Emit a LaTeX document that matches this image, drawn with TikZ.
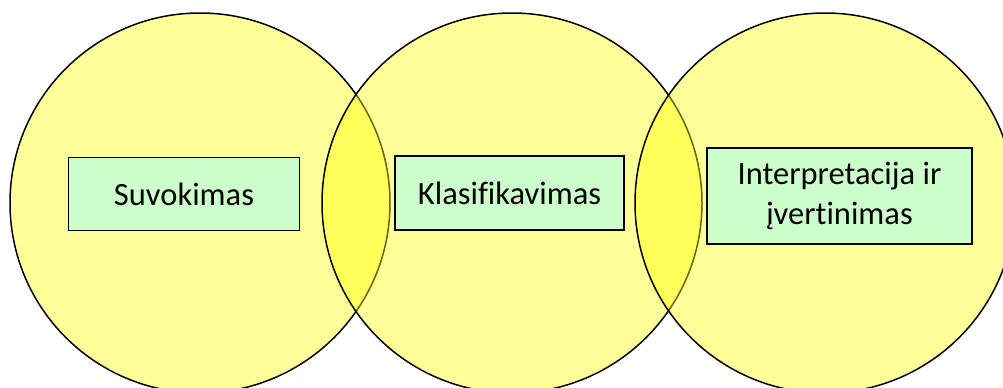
\documentclass[tikz,border=0pt]{standalone}
\usepackage{fontspec}
\setmainfont[RawFeature={-liga;-clig}]{Carlito}
\usepackage{tikz}
\usetikzlibrary{positioning, shapes}

\definecolor{ringyellow}{RGB}{255,255,0}
\definecolor{boxgreen}{RGB}{204,255,204}

\begin{document}
\begin{tikzpicture}[x=0.02cm, y=0.02cm,
	ring/.style={draw=black, line width=0.85pt, fill=ringyellow, fill opacity=0.4},
	stage/.style={draw=black, line width=0.85pt, fill=boxgreen, align=center, font=\fontsize{18.5}{22.5}\selectfont, inner sep=0pt}]
  	\clip (0,0) rectangle (1003,387);
  	\fill[white] (0,0) rectangle (1003,387);

  	% three overlapping rings, drawn left to right
  	\draw[ring] (200,184) circle (190);
  	\draw[ring] (512,184) circle (190);
  	\draw[ring] (825,184) circle (190);

  	\node[stage, minimum width=4.62cm, minimum height=1.46cm] (S1) at (184,193) {Suvokimas};
  	\node[stage, minimum width=4.58cm, minimum height=1.48cm] (S2) at (509.5,194) {Klasifikavimas};
  	\node[stage, minimum width=5.30cm, minimum height=1.92cm] (S3) at (839.5,191) {Interpretacija ir\\įvertinimas};
  	\end{tikzpicture}
\end{document}
